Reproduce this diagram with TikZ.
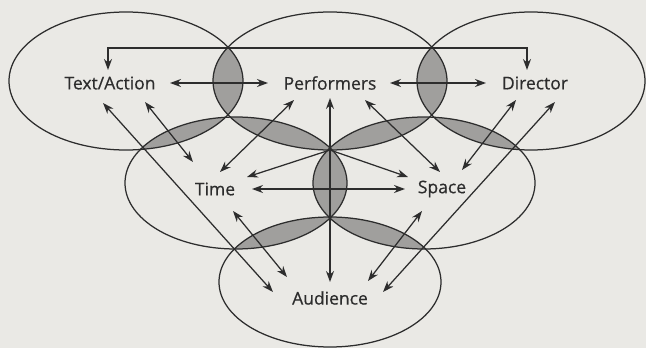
\documentclass[tikz,border=0pt]{standalone}
\usepackage{fontspec}
\setmainfont{Open Sans}
\newfontfamily\ringfont{Open Sans}[FakeBold=0.6]
\usetikzlibrary{arrows.meta}

\definecolor{paper}{RGB}{234,233,229}
\definecolor{lensgray}{RGB}{160,159,157}
\definecolor{ink}{RGB}{45,45,45}

% the six rings
\newcommand{\taEll}{(126,81) ellipse [x radius=117pt, y radius=69pt]}
\newcommand{\perfEll}{(330,81) ellipse [x radius=117pt, y radius=69pt]}
\newcommand{\dirEll}{(531,81) ellipse [x radius=114pt, y radius=69pt]}
\newcommand{\timeEll}{(236,183) ellipse [x radius=111pt, y radius=66pt]}
\newcommand{\spaceEll}{(424,183) ellipse [x radius=111pt, y radius=66pt]}
\newcommand{\audEll}{(330,282) ellipse [x radius=111pt, y radius=65pt]}

\begin{document}
\begin{tikzpicture}[x=1pt,y=-1pt,
	label/.style={font=\ringfont\fontsize{17.5}{20}\selectfont, text=ink, inner sep=0pt},
	ring/.style={draw=ink, line width=1.25pt},
	link/.style={draw=ink, line width=1.25pt, {Stealth[length=11pt,width=8pt]}-{Stealth[length=11pt,width=8pt]}},
	spoke/.style={draw=ink, line width=1.25pt, -{Stealth[length=11pt,width=8pt]}}]
	
	\fill[paper] (0,0) rectangle (646,348);
	\useasboundingbox (0,0) rectangle (646,348);
	
	% shaded overlaps
	\begin{scope} \clip \taEll; \fill[lensgray] \perfEll; \end{scope}
	\begin{scope} \clip \perfEll; \fill[lensgray] \dirEll; \end{scope}
	\begin{scope} \clip \taEll; \fill[lensgray] \timeEll; \end{scope}
	\begin{scope} \clip \perfEll; \fill[lensgray] \timeEll; \end{scope}
	\begin{scope} \clip \perfEll; \fill[lensgray] \spaceEll; \end{scope}
	\begin{scope} \clip \dirEll; \fill[lensgray] \spaceEll; \end{scope}
	\begin{scope} \clip \timeEll; \fill[lensgray] \spaceEll; \end{scope}
	\begin{scope} \clip \timeEll; \fill[lensgray] \audEll; \end{scope}
	\begin{scope} \clip \spaceEll; \fill[lensgray] \audEll; \end{scope}
	
	\draw[ring] \taEll;
	\draw[ring] \perfEll;
	\draw[ring] \dirEll;
	\draw[ring] \timeEll;
	\draw[ring] \spaceEll;
	\draw[ring] \audEll;
	
	\node[label] (ta) at (110,83) {Text/Action};
	\node[label] (perf) at (330,83) {Performers};
	\node[label] (dir) at (535,83) {Director};
	\node[label] (time) at (215,189) {Time};
	\node[label] (space) at (442,189) {Space};
	\node[label] (aud) at (330,298) {Audience};
	\coordinate (hub) at (330,150);
	
	% top row
	\draw[link] ([shift={(-2,-13)}]ta.center) -- ++(0,-22) -| ([shift={(-8,-13)}]dir.center);
	\draw[link] ([shift={(60,0)}]ta.center) -- ([shift={(-62,0)}]perf.center);
	\draw[link] ([shift={(60,0)}]perf.center) -- ([shift={(-49,0)}]dir.center);
	
	% down to the middle row
	\draw[link] ([shift={(35,19)}]ta.center) -- ([shift={(-22,-27)}]time.center);
	\draw[link] ([shift={(-36,17)}]perf.center) -- ([shift={(5,-17)}]time.center);
	\draw[link] ([shift={(35,17)}]perf.center) -- ([shift={(-2,-17)}]space.center);
	\draw[link] ([shift={(-19,17)}]dir.center) -- ([shift={(20,-19)}]space.center);
	\draw[spoke] (hub) -- ([shift={(32,-12)}]time.center);
	\draw[spoke] (hub) -- ([shift={(-34,-12)}]space.center);
	\draw[link] ([shift={(37,0)}]time.center) -- ([shift={(-37,0)}]space.center);
	
	% down to the audience
	\draw[link] ([shift={(-7,20)}]ta.center) -- ([shift={(-57,-6)}]aud.center);
	\draw[link] ([shift={(0,15)}]perf.center) -- ([shift={(0,-16)}]aud.center);
	\draw[link] ([shift={(20,19)}]dir.center) -- ([shift={(53,-6)}]aud.center);
	\draw[link] ([shift={(18,22)}]time.center) -- ([shift={(-43,-21)}]aud.center);
	\draw[link] ([shift={(-20,22)}]space.center) -- ([shift={(38,-17)}]aud.center);
	
\end{tikzpicture}
\end{document}
